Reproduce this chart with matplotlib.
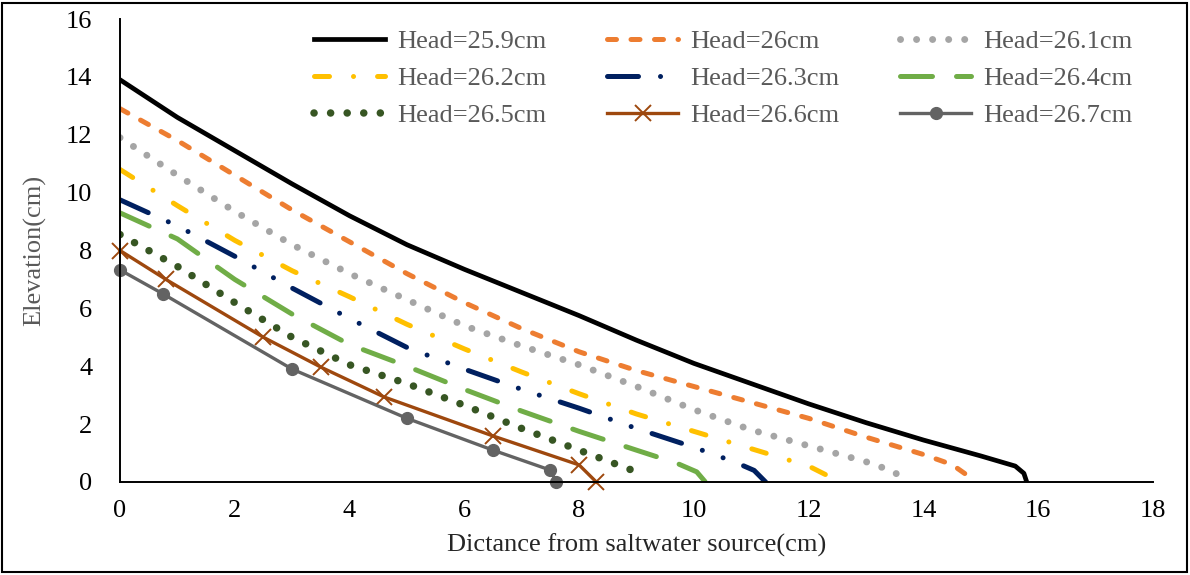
import matplotlib
matplotlib.use('Agg')
import matplotlib.pyplot as plt
from matplotlib.patches import Rectangle

plt.rcParams['font.family'] = ['Liberation Serif', 'DejaVu Serif']

# distance (cm) / elevation (cm), one pair of lists per head
x_259 = [0, 1, 2, 3, 4, 5, 6, 7, 8, 9, 10, 11, 12, 13, 14, 15, 15.6, 15.75, 15.8]
y_259 = [13.9, 12.6, 11.45, 10.3, 9.2, 8.2, 7.35, 6.55, 5.75, 4.9, 4.1, 3.4, 2.7, 2.05, 1.45, 0.9, 0.55, 0.3, 0]

x_260 = [0, 1, 2, 3, 4, 5, 6, 7, 8, 9, 10, 11, 12, 13, 14, 14.5, 14.75, 14.85]
y_260 = [12.9, 11.8, 10.6, 9.4, 8.3, 7.2, 6.2, 5.3, 4.5, 3.85, 3.3, 2.75, 2.2, 1.55, 0.95, 0.6, 0.25, 0]

x_261 = [0, 1, 2, 3, 4, 5, 6, 7, 8, 9, 10, 11, 12, 13, 13.5, 13.65]
y_261 = [11.9, 10.6, 9.35, 8.2, 7.2, 6.3, 5.4, 4.7, 4.05, 3.3, 2.5, 1.8, 1.25, 0.7, 0.35, 0]

x_262 = [0, 1, 2, 3, 4, 5, 6, 7, 8, 9, 10, 11, 12, 12.3, 12.45]
y_262 = [10.8, 9.55, 8.35, 7.3, 6.4, 5.45, 4.6, 3.8, 3.05, 2.35, 1.75, 1.15, 0.55, 0.25, 0]

x_263 = [0, 1, 2, 3, 4, 5, 6, 7, 8, 9, 10, 10.7, 11.05, 11.25]
y_263 = [9.75, 8.85, 7.8, 6.7, 5.65, 4.65, 3.9, 3.2, 2.55, 1.85, 1.2, 0.7, 0.4, 0]

x_264 = [0, 1, 2, 3, 4, 5, 6, 7, 8, 9, 9.7, 10.05, 10.2]
y_264 = [9.3, 8.4, 7.0, 5.8, 4.75, 4.0, 3.2, 2.45, 1.75, 1.1, 0.65, 0.35, 0]

x_265 = [0, 1, 2, 3, 4, 5, 6, 7, 8, 8.6, 9.0]
y_265 = [8.55, 7.45, 6.2, 5.0, 4.05, 3.4, 2.65, 1.85, 1.1, 0.65, 0.35]

x_266 = [0, 0.8, 2.5, 3.5, 4.6, 6.5, 8.0, 8.3]
y_266 = [8.0, 7.0, 5.0, 3.97, 2.94, 1.59, 0.59, 0]

x_267 = [0, 0.75, 3.0, 5.0, 6.5, 7.5, 7.6]
y_267 = [7.33, 6.5, 3.9, 2.2, 1.1, 0.41, 0]

labels = ['Head=25.9cm', 'Head=26cm', 'Head=26.1cm', 'Head=26.2cm', 'Head=26.3cm',
          'Head=26.4cm', 'Head=26.5cm', 'Head=26.6cm', 'Head=26.7cm']
x_ticks = [0, 2, 4, 6, 8, 10, 12, 14, 16, 18]
y_ticks = [0, 2, 4, 6, 8, 10, 12, 14, 16]

fig = plt.figure(figsize=(11.9, 5.75), dpi=100)
ax = fig.add_axes([120 / 1190, 1 - 482 / 575, 1033 / 1190, 463 / 575])

h = []
h += ax.plot(x_259, y_259, color='black', lw=3.4, solid_joinstyle='round')
h += ax.plot(x_260, y_260, color='#ED7D31', lw=3.6, dashes=(1.8, 2.9), dash_capstyle='round')
h += ax.plot(x_261, y_261, color='#A5A5A5', lw=5.0, dashes=(0.01, 2.3), dash_capstyle='round')
h += ax.plot(x_262, y_262, color='#FFC000', lw=3.6, dashes=(3, 4.8, 0.01, 4.8), dash_capstyle='round')
h += ax.plot(x_263, y_263, color='#002060', lw=3.6, dashes=(6.2, 4.4, 0.01, 4.4, 0.01, 4.4), dash_capstyle='round')
h += ax.plot(x_264, y_264, color='#70AD47', lw=3.6, dashes=(6.4, 4.8), dash_capstyle='round')
h += ax.plot(x_265, y_265, color='#375623', lw=5.4, dashes=(0.01, 2.2), dash_capstyle='round')
h += ax.plot(x_266, y_266, color='#9E480E', lw=2.4, marker='x', ms=12, mew=1.4, clip_on=False)
h += ax.plot(x_267, y_267, color='#636363', lw=2.4, marker='o', ms=8.5, clip_on=False)

ax.set_xlim(0, 18)
ax.set_ylim(0, 16)
ax.set_xticks(x_ticks)
ax.set_yticks(y_ticks)
ax.tick_params(length=0, labelsize=19, colors='black')
ax.tick_params(axis='x', pad=13)
ax.tick_params(axis='y', pad=20)
for s in ['top', 'right']:
    ax.spines[s].set_visible(False)
for s in ['left', 'bottom']:
    ax.spines[s].set_linewidth(1.4)
    ax.spines[s].set_color('black')

ax.set_xlabel('Dictance from saltwater source(cm)', fontsize=19, color='#262626', labelpad=8)
ax.set_ylabel('Elevation(cm)', fontsize=19, color='#595959', labelpad=14)

# legend fills by column, reference reads by row
order = [0, 3, 6, 1, 4, 7, 2, 5, 8]
leg = ax.legend([h[i] for i in order], [labels[i] for i in order], ncol=3, frameon=False,
                loc='upper left', bbox_to_anchor=(314 / 1190, 1 - 30 / 575),
                bbox_transform=fig.transFigure, borderaxespad=0, borderpad=0,
                fontsize=19, handlelength=2.7, handletextpad=0.45, columnspacing=2.3,
                labelspacing=0.5)
for t in leg.get_texts():
    t.set_color('#595959')

fig.patches.append(Rectangle((2 / 1190, 3 / 575), 1185 / 1190, 569 / 575, transform=fig.transFigure,
                             fill=False, edgecolor='black', lw=1.5))

fig.savefig('out.png', dpi=100)
